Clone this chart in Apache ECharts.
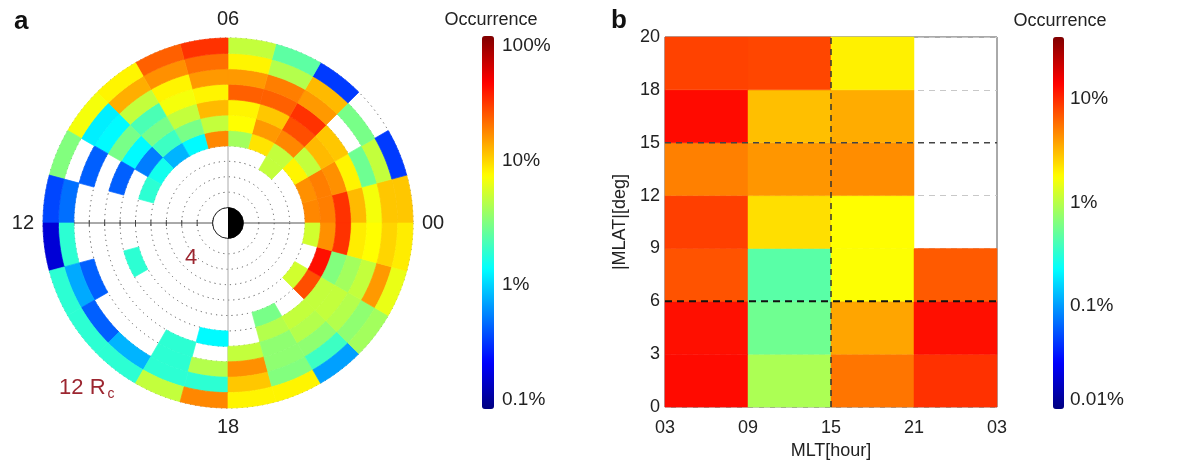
<!DOCTYPE html>
<html>
<head>
<meta charset="utf-8">
<script src="https://cdn.jsdelivr.net/npm/echarts@6/dist/echarts.min.js"></script>
<style>
html,body{margin:0;padding:0;background:#fff;}
#chart{width:1187px;height:465px;}
</style>
</head>
<body>
<div id="chart"></div>
<script>
// ---------- Panel a: occurrence (%) per MLT hour sector (0..23) and radial ring (R_c) ----------
const mltHoursA = [0,1,2,3,4,5,6,7,8,9,10,11,12,13,14,15,16,17,18,19,20,21,22,23];
const angleLabelsA = ['00','06','12','18',''];
const occRing4  = [null,null,null,5,null,null,null,null,null,null,null,null,null,null,null,null,null,null,null,null,null,null,null,null];
const occRing5  = [17,16,8,5,9,4,17,1.3,0.8,1.5,1.8,null,null,null,null,null,null,null,null,null,null,5.5,null,5.5];
const occRing6  = [18,18,5,17,15,7.5,5,3,2,0.55,null,null,null,1.8,null,null,null,null,null,3,null,25,38,16];
const occRing7  = [30,16,12,25,11,8,12,5,3,1.3,0.45,null,null,null,null,null,null,1.3,null,4.5,5,5,3.2,30];
const occRing8  = [12,8,11,30,22,22,8,7,2.2,3,null,null,null,null,null,null,1.8,null,5,3.5,4.5,5,4,8.5];
const occRing9  = [7,2.8,null,15,18,15,15,8,5,1.3,0.45,null,null,0.45,null,null,1.8,4.5,16,3.5,3.5,4.5,5,7.5];
const occRing10 = [11,5,3,12,4.5,8,20,16,13,1.2,null,0.5,1.8,0.75,0.45,0.8,1.8,1.8,11,3.2,2,3.5,15,10];
const occRing11 = [11,0.35,null,0.35,2.5,5,30,22,8,7,3.2,0.38,0.18,1.8,1.8,1.8,5,17,8,8,0.7,4,6.5,8.5];
const firstRingA = 4;
const planetRadiusA = 1;
const cbTicksA = ['0.1%','1%','10%','100%'];   // log10 = -1..2
const radiusLabelsA = [{text:'4', r:3.3, h:14.9}, {text:'12 R', sub:'c', r:14.1, h:15.3}];

// ---------- Panel b: occurrence (%) per MLT column and |MLAT| row ----------
const mltLabelsB  = ['03','09','15','21','03'];
const mlatLabelsB = ['0','3','6','9','12','15','18','20'];
const occRow0_3   = [13, 0.9, 5.5, 9.5];
const occRow3_6   = [12.5, 0.55, 3.7, 12.5];
const occRow6_9   = [7.2, 0.46, 1.75, 6.8];
const occRow9_12  = [8.5, 2.3, 1.8, null];
const occRow12_15 = [5, 4.2, 4.5, null];
const occRow15_18 = [13, 3.0, 3.5, null];
const occRow18_20 = [8.3, 8, 2.0, null];
const cbTicksB = ['0.01%','0.1%','1%','10%'];  // log10 = -2..1
const cbMaxLogB = 1.6;
const dashRowsB = [2, 5];   // boundaries at 6 and 15 deg
const dashColsB = [2];      // boundary at 15 h

const jet = ['#000080','#0000ff','#0080ff','#00ffff','#80ff80','#ffff00','#ff8000','#ff0000','#800000'];
const FONT = '"Liberation Sans", Arial, sans-serif';
const LABEL_RED = '#9c2630';

// build cell tables
const ringsA = [occRing4, occRing5, occRing6, occRing7, occRing8, occRing9, occRing10, occRing11];
const cellsA = [];
ringsA.forEach((arr, i) => arr.forEach((v, k) => {
  if (v != null) cellsA.push([firstRingA + i, mltHoursA[k], v, Math.log10(v)]);
}));
const rowsB = [occRow0_3, occRow3_6, occRow6_9, occRow9_12, occRow12_15, occRow15_18, occRow18_20];
const cellsB = [];
rowsB.forEach((arr, r) => arr.forEach((v, c) => {
  if (v != null) cellsB.push([c, r, v, Math.log10(v)]);
}));

function renderSector(params, api) {
  const r0 = api.value(0), h0 = api.value(1);
  const pts = [];
  const N = 10;
  for (let i = 0; i <= N; i++) pts.push(api.coord([r0 + 1, h0 + i / N]));
  for (let i = N; i >= 0; i--) pts.push(api.coord([r0, h0 + i / N]));
  const c = api.visual('color');
  return {type:'polygon', shape:{points:pts}, style:{fill:c, stroke:c, lineWidth:0.7}};
}
function renderPlanet(params, api) {
  const c = api.coord([0, 0]);
  const e = api.coord([api.value(0), 0]);
  const rr = Math.hypot(e[0] - c[0], e[1] - c[1]);
  return {type:'group', children:[
    {type:'circle', shape:{cx:c[0], cy:c[1], r:rr}, style:{fill:'#fff', stroke:'#222', lineWidth:1}},
    {type:'sector', shape:{cx:c[0], cy:c[1], r0:0, r:rr, startAngle:-Math.PI/2, endAngle:Math.PI/2, clockwise:true}, style:{fill:'#000'}}
  ]};
}
function renderTick(params, api) {
  const p = api.coord([api.value(0), 12]);
  return {type:'line', shape:{x1:p[0], y1:p[1]-3, x2:p[0], y2:p[1]+3}, style:{stroke:'#444', lineWidth:1}};
}
function renderLabelA(params, api) {
  const d = radiusLabelsA[params.dataIndex];
  const p = api.coord([api.value(0), api.value(1)]);
  const txt = d.sub ? ('{m|' + d.text + '}{s|' + d.sub + '}') : ('{m|' + d.text + '}');
  return {type:'text', x:p[0], y:p[1], style:{text:txt, align:'center', verticalAlign:'middle',
    rich:{m:{fontSize:22, fill:LABEL_RED, fontFamily:FONT}, s:{fontSize:14, fill:LABEL_RED, fontFamily:FONT, padding:[12,0,0,2]}}}};
}
function renderRect(params, api) {
  const x = api.value(0), y = api.value(1);
  const p0 = api.coord([x, y + 1]);
  const p1 = api.coord([x + 1, y]);
  const c = api.visual('color');
  return {type:'rect', shape:{x:p0[0], y:p0[1], width:p1[0]-p0[0], height:p1[1]-p0[1]}, style:{fill:c, stroke:c, lineWidth:0.5}};
}

const tickRadii = [];
for (let r = 1; r < 12; r++) tickRadii.push([r]);

const series = [
  {type:'custom', coordinateSystem:'polar', renderItem:renderSector, data:cellsA, z:2, silent:true},
  {type:'custom', coordinateSystem:'polar', renderItem:renderTick, data:tickRadii, z:1, silent:true},
  {type:'custom', coordinateSystem:'polar', renderItem:renderPlanet, data:[[planetRadiusA, 0]], z:3, silent:true},
  {type:'custom', coordinateSystem:'polar', renderItem:renderLabelA, data:radiusLabelsA.map(d => [d.r, d.h]), z:4, silent:true, clip:false},
  {type:'line', xAxisIndex:0, yAxisIndex:0, data:[], silent:true},
  {type:'custom', xAxisIndex:1, yAxisIndex:1, renderItem:renderRect, data:cellsB, encode:{x:0, y:1}, z:2, silent:true},
];
dashRowsB.forEach((r, i) => series.push({type:'line', xAxisIndex:1, yAxisIndex:1, symbol:'none', silent:true, z:5,
  data:[[0, r], [mltLabelsB.length - 1, r]],
  lineStyle: i === 0 ? {color:'#111', width:2, type:[7,5]} : {color:'#444', width:1.5, type:[6,5]}}));
dashColsB.forEach(c => series.push({type:'line', xAxisIndex:1, yAxisIndex:1, symbol:'none', silent:true, z:5,
  data:[[c, 0], [c, mlatLabelsB.length - 1]], lineStyle:{color:'#333', width:1.5, type:[6,5]}}));
series.push({type:'line', xAxisIndex:2, yAxisIndex:2, data:[], silent:true});

const option = {
  animation:false,
  textStyle:{fontFamily:FONT},
  polar:{center:[228, 223], radius:185},
  angleAxis:{type:'value', min:0, max:24, interval:6, startAngle:0, clockwise:false,
    axisLine:{show:false}, axisTick:{show:false},
    splitLine:{show:true, lineStyle:{color:['#555','#aaa'], width:1}},
    axisLabel:{fontSize:20, color:'#222', margin:9, formatter:v => angleLabelsA[Math.round(v/6)]}},
  radiusAxis:{type:'value', min:0, max:12, interval:1,
    axisLine:{show:false}, axisTick:{show:false}, axisLabel:{show:false},
    splitLine:{show:true, lineStyle:{color:'#555', width:1, type:[1.2,4]}}},
  grid:[
    {left:482, top:36, width:12, height:373, show:false},
    {left:665, top:37, width:332, height:372, show:true, borderColor:'#555', borderWidth:1, backgroundColor:'transparent'},
    {left:1053, top:37, width:11, height:372, show:false}
  ],
  xAxis:[
    {type:'category', gridIndex:0, show:false, data:['x']},
    {type:'value', gridIndex:1, min:0, max:mltLabelsB.length-1, interval:1,
      axisLine:{show:false}, axisTick:{show:false}, splitLine:{show:false},
      axisLabel:{fontSize:18, color:'#222', margin:12, formatter:v => mltLabelsB[v]},
      name:'MLT[hour]', nameLocation:'middle', nameGap:34, nameTextStyle:{fontSize:18, color:'#222', verticalAlign:'top'}},
    {type:'category', gridIndex:2, show:false, data:['x']}
  ],
  yAxis:[
    {type:'value', gridIndex:0, min:-1, max:2, interval:1, position:'right',
      axisLine:{show:false}, axisTick:{show:false}, splitLine:{show:false},
      axisLabel:{fontSize:19, color:'#222', margin:8, formatter:v => cbTicksA[v+1],
        verticalAlignMaxLabel:'top', verticalAlignMinLabel:'bottom'}},
    {type:'value', gridIndex:1, min:0, max:mlatLabelsB.length-1, interval:1,
      axisLine:{show:false}, axisTick:{show:false},
      splitLine:{show:true, lineStyle:{color:'#c8c8c8', type:[6,5], width:1}},
      axisLabel:{fontSize:18, color:'#222', margin:5, formatter:v => mlatLabelsB[v]},
      name:'|MLAT|[deg]', nameLocation:'middle', nameGap:36, nameRotate:90, nameTextStyle:{fontSize:18, color:'#222'}},
    {type:'value', gridIndex:2, min:-2, max:cbMaxLogB, interval:1, position:'right',
      axisLine:{show:false}, axisTick:{show:false}, splitLine:{show:false},
      axisLabel:{fontSize:19, color:'#222', margin:6, showMaxLabel:false, formatter:v => cbTicksB[Math.round(v)+2],
        verticalAlignMinLabel:'bottom'}}
  ],
  visualMap:[
    {type:'continuous', seriesIndex:0, dimension:3, min:-1, max:2, calculable:false, show:true,
      left:467, top:21, itemWidth:12, itemHeight:373, inRange:{color:jet}, text:null, hoverLink:false},
    {type:'continuous', seriesIndex:5, dimension:3, min:-2, max:cbMaxLogB, calculable:false, show:true,
      left:1038, top:22, itemWidth:11, itemHeight:372, inRange:{color:jet}, text:null, hoverLink:false}
  ],
  graphic:[
    {type:'text', left:14, top:9, style:{text:'a', font:'bold 26px ' + FONT, fill:'#111'}},
    {type:'text', left:611, top:8, style:{text:'b', font:'bold 26px ' + FONT, fill:'#111'}},
    {type:'text', x:491, y:20, style:{text:'Occurrence', font:'18px ' + FONT, fill:'#222', align:'center', verticalAlign:'middle'}},
    {type:'text', x:1060, y:21, style:{text:'Occurrence', font:'18px ' + FONT, fill:'#222', align:'center', verticalAlign:'middle'}}
  ],
  series
};
const chart = echarts.init(document.getElementById('chart'), null, {renderer:'canvas'});
chart.setOption(option);
</script>
</body>
</html>
